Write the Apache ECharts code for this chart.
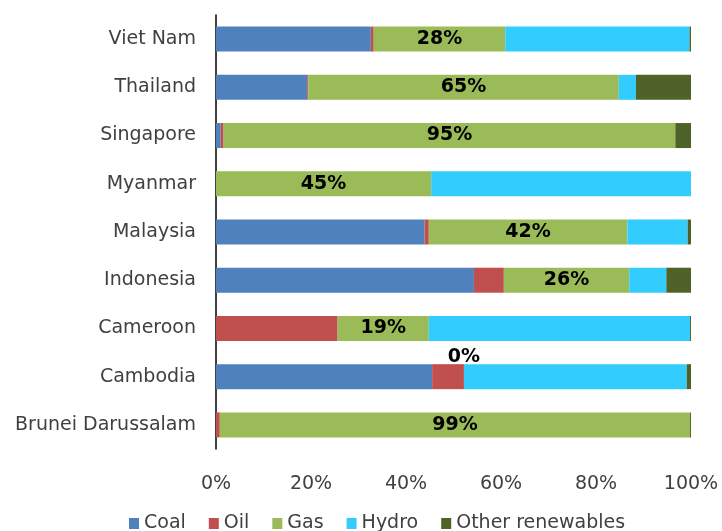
<!DOCTYPE html>
<html>
<head>
<meta charset="utf-8">
<script src="https://cdn.jsdelivr.net/npm/echarts@6/dist/echarts.min.js"></script>
<style>
html,body{margin:0;padding:0;background:#fff;}
#main{width:722px;height:531px;}
</style>
</head>
<body>
<div id="main"></div>
<script>
// categories, bottom to top
var countries = ['Brunei Darussalam', 'Cambodia', 'Cameroon', 'Indonesia', 'Malaysia', 'Myanmar', 'Singapore', 'Thailand', 'Viet Nam'];

// share of generation (%) per fuel
var coal   = [0,    45.5, 0,    54.3, 43.9, 0,    1.0,  19.2, 32.6];
var oil    = [0.8,  6.7,  25.6, 6.3,  0.9,  0,    0.6,  0.2,  0.6];
var gas    = [99.0, 0,    19.2, 26.4, 41.8, 45.3, 95.1, 65.4, 27.7];
var hydro  = [0,    46.9, 55.0, 7.8,  12.7, 54.7, 0,    3.6,  38.8];
var others = [0.2,  0.9,  0.2,  5.2,  0.7,  0,    3.3,  11.6, 0.3];

var fuelNames = ['Coal', 'Oil', 'Gas', 'Hydro', 'Other renewables'];
var fuelColors = ['#4F81BD', '#C0504D', '#9BBB59', '#33CCFF', '#4F6228'];
var fuelData = [coal, oil, gas, hydro, others];

var fontFam = '"DejaVu Sans", sans-serif';

var myChart = echarts.init(document.getElementById('main'));

var series = [];
for (var i = 0; i < fuelNames.length; i++) {
	var s = {
		name: fuelNames[i],
		type: 'bar',
		stack: 'total',
		barWidth: 25,
		itemStyle: { color: fuelColors[i] },
		data: fuelData[i].slice()
	};
	if (fuelNames[i] == 'Gas') {
		//gas share shown on the bar
		s.label = {
			show: true,
			position: 'inside',
			color: '#000',
			fontFamily: fontFam,
			fontWeight: 'bold',
			fontSize: 19,
			formatter: function (p) { return Math.round(p.value) + '%'; }
		};
		s.data = gas.map(function (v) {
			if (v === 0) {
				return { value: v, label: { position: 'top', distance: -2 } };
			}
			return v;
		});
	}
	series.push(s);
}

var option = {
	backgroundColor: '#fff',
	animation: false,
	grid: { left: 216, right: 31, top: 15, bottom: 82 },
	legend: {
		top: 509,
		left: 124,
		icon: 'rect',
		itemWidth: 10,
		itemHeight: 11,
		itemGap: 23,
		textStyle: { color: '#404040', fontSize: 19, fontFamily: fontFam },
		data: fuelNames
	},
	xAxis: {
		type: 'value',
		min: 0,
		max: 100,
		interval: 20,
		axisLine: { show: false },
		axisTick: { show: false },
		splitLine: { show: false },
		axisLabel: {
			formatter: '{value}%',
			color: '#404040',
			fontSize: 19,
			fontFamily: fontFam,
			margin: 26
		}
	},
	yAxis: {
		type: 'category',
		data: countries,
		axisLine: { show: true, lineStyle: { color: '#000', width: 1.5 } },
		axisTick: { show: false },
		axisLabel: {
			color: '#404040',
			fontSize: 19,
			fontFamily: fontFam,
			margin: 20
		}
	},
	series: series
};

myChart.setOption(option);
</script>
</body>
</html>
